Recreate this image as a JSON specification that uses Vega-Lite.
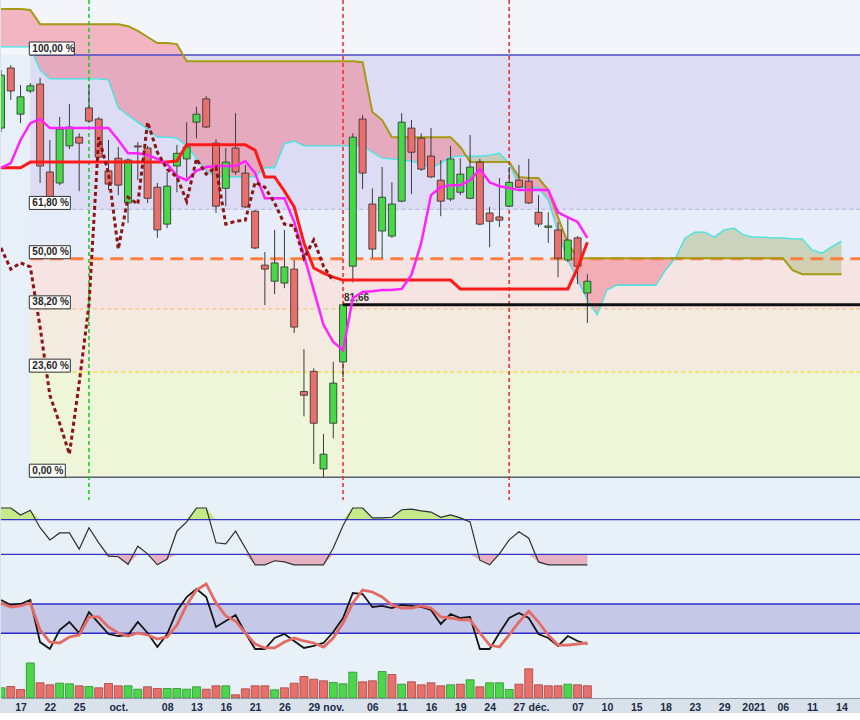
{
  "$schema": "https://vega.github.io/schema/vega-lite/v6.json",
  "padding": 0,
  "spacing": 0,
  "bounds": "flush",
  "background": "#d9e2eb",
  "config": {
    "view": {"stroke": null},
    "font": "Liberation Sans",
    "axisX": {"labels": false, "ticks": false, "grid": false, "domainColor": "#98a6b4", "domainWidth": 1}
  },
  "datasets": {
    "days": [
      {"date":"2020-09-15","open":86.58,"high":88.26,"low":86.46,"close":88.11,"kijun":85.45,"tenkan":85.45,"chikou":83.21,"spanA":88.94,"spanB":90.06,"osc":100,"stochK":75.4,"stochD":71.4,"volume":510000,"vdir":"hausse"},
      {"date":"2020-09-16","open":88.32,"high":88.40,"low":87.39,"close":87.65,"kijun":85.45,"tenkan":85.58,"chikou":82.63,"spanA":88.94,"spanB":90.06,"osc":100,"stochK":68.6,"stochD":65.9,"volume":575000,"vdir":"baisse"},
      {"date":"2020-09-17","open":86.98,"high":87.82,"low":86.72,"close":87.48,"kijun":85.45,"tenkan":86.24,"chikou":82.80,"spanA":88.94,"spanB":90.06,"osc":88,"stochK":70,"stochD":67.3,"volume":425000,"vdir":"baisse"},
      {"date":"2020-09-18","open":87.65,"high":87.88,"low":87.59,"close":87.80,"kijun":85.61,"tenkan":86.72,"chikou":82.69,"spanA":88.94,"spanB":90.03,"osc":96,"stochK":75.4,"stochD":71.4,"volume":1750000,"vdir":"hausse"},
      {"date":"2020-09-21","open":87.85,"high":88.03,"low":85.02,"close":85.50,"kijun":85.61,"tenkan":86.84,"chikou":81.06,"spanA":88.26,"spanB":89.61,"osc":66,"stochK":18,"stochD":34.5,"volume":760000,"vdir":"baisse"},
      {"date":"2020-09-22","open":85.33,"high":86.24,"low":84.40,"close":84.59,"kijun":85.61,"tenkan":86.58,"chikou":79.25,"spanA":88.00,"spanB":89.61,"osc":45,"stochK":8.6,"stochD":18.1,"volume":660000,"vdir":"baisse"},
      {"date":"2020-09-23","open":85.02,"high":86.90,"low":84.96,"close":86.55,"kijun":85.61,"tenkan":86.58,"chikou":78.52,"spanA":88.00,"spanB":89.61,"osc":57,"stochK":34.5,"stochD":16.8,"volume":740000,"vdir":"hausse"},
      {"date":"2020-09-24","open":86.07,"high":87.27,"low":85.98,"close":86.61,"kijun":85.61,"tenkan":86.58,"chikou":77.72,"spanA":88.00,"spanB":89.61,"osc":57,"stochK":45.4,"stochD":25,"volume":710000,"vdir":"hausse"},
      {"date":"2020-09-25","open":86.32,"high":86.43,"low":84.79,"close":86.15,"kijun":85.61,"tenkan":86.58,"chikou":79.57,"spanA":88.00,"spanB":89.61,"osc":29,"stochK":30.4,"stochD":27.7,"volume":610000,"vdir":"baisse"},
      {"date":"2020-09-28","open":87.16,"high":87.82,"low":86.75,"close":86.78,"kijun":85.61,"tenkan":86.58,"chikou":81.66,"spanA":88.00,"spanB":89.61,"osc":66,"stochK":59,"stochD":52.3,"volume":575000,"vdir":"hausse"},
      {"date":"2020-09-29","open":86.84,"high":86.90,"low":85.67,"close":85.75,"kijun":85.61,"tenkan":86.58,"chikou":86.32,"spanA":88.00,"spanB":89.61,"osc":40,"stochK":44,"stochD":52.3,"volume":510000,"vdir":"baisse"},
      {"date":"2020-09-30","open":85.36,"high":86.24,"low":84.82,"close":84.99,"kijun":85.61,"tenkan":86.58,"chikou":85.30,"spanA":87.97,"spanB":89.61,"osc":17,"stochK":29,"stochD":38.6,"volume":725000,"vdir":"baisse"},
      {"date":"2020-10-01","open":85.72,"high":86.04,"low":84.68,"close":84.96,"kijun":85.61,"tenkan":86.24,"chikou":83.18,"spanA":87.16,"spanB":89.61,"osc":16,"stochK":26.3,"stochD":30.4,"volume":610000,"vdir":"baisse"},
      {"date":"2020-10-02","open":84.46,"high":85.72,"low":83.90,"close":85.67,"kijun":85.61,"tenkan":85.86,"chikou":84.62,"spanA":86.95,"spanB":89.55,"osc":3,"stochK":27.6,"stochD":26.3,"volume":610000,"vdir":"hausse"},
      {"date":"2020-10-05","open":86.07,"high":86.18,"low":85.10,"close":86.04,"kijun":85.61,"tenkan":85.86,"chikou":84.43,"spanA":86.75,"spanB":89.41,"osc":34,"stochK":45.4,"stochD":30.4,"volume":440000,"vdir":"hausse"},
      {"date":"2020-10-06","open":86.01,"high":86.07,"low":84.46,"close":84.59,"kijun":85.61,"tenkan":85.81,"chikou":86.75,"spanA":86.55,"spanB":89.23,"osc":21,"stochK":30.4,"stochD":27.7,"volume":560000,"vdir":"baisse"},
      {"date":"2020-10-07","open":84.90,"high":85.02,"low":83.49,"close":83.71,"kijun":85.61,"tenkan":85.70,"chikou":85.89,"spanA":86.32,"spanB":89.05,"osc":2,"stochK":11.3,"stochD":22.2,"volume":475000,"vdir":"baisse"},
      {"date":"2020-10-08","open":83.87,"high":85.33,"low":83.76,"close":84.93,"kijun":85.61,"tenkan":85.56,"chikou":85.41,"spanA":86.32,"spanB":89.05,"osc":12,"stochK":29,"stochD":25,"volume":475000,"vdir":"hausse"},
      {"date":"2020-10-09","open":85.50,"high":86.10,"low":84.76,"close":85.86,"kijun":85.64,"tenkan":85.22,"chikou":85.19,"spanA":86.29,"spanB":89.02,"osc":60,"stochK":60.4,"stochD":41.3,"volume":475000,"vdir":"hausse"},
      {"date":"2020-10-12","open":85.70,"high":86.75,"low":85.16,"close":86.04,"kijun":86.10,"tenkan":85.10,"chikou":84.51,"spanA":86.07,"spanB":88.52,"osc":76,"stochK":79.5,"stochD":68.6,"volume":440000,"vdir":"hausse"},
      {"date":"2020-10-13","open":86.75,"high":87.19,"low":86.29,"close":86.98,"kijun":86.10,"tenkan":85.36,"chikou":85.70,"spanA":85.72,"spanB":88.52,"osc":100,"stochK":90.4,"stochD":89,"volume":560000,"vdir":"hausse"},
      {"date":"2020-10-14","open":87.42,"high":87.51,"low":86.58,"close":86.61,"kijun":86.10,"tenkan":85.47,"chikou":85.27,"spanA":85.36,"spanB":88.52,"osc":100,"stochK":79.5,"stochD":97.3,"volume":440000,"vdir":"baisse"},
      {"date":"2020-10-15","open":86.15,"high":86.26,"low":84.18,"close":84.37,"kijun":86.10,"tenkan":85.50,"chikou":85.47,"spanA":85.19,"spanB":88.52,"osc":40,"stochK":38.6,"stochD":71.4,"volume":610000,"vdir":"baisse"},
      {"date":"2020-10-16","open":84.87,"high":86.01,"low":84.37,"close":85.61,"kijun":86.10,"tenkan":85.50,"chikou":83.87,"spanA":85.19,"spanB":88.52,"osc":38,"stochK":46.8,"stochD":53.6,"volume":610000,"vdir":"hausse"},
      {"date":"2020-10-19","open":86.01,"high":87.01,"low":85.25,"close":85.33,"kijun":86.10,"tenkan":85.50,"chikou":83.95,"spanA":85.19,"spanB":88.52,"osc":60,"stochK":55,"stochD":46.8,"volume":160000,"vdir":"baisse"},
      {"date":"2020-10-20","open":85.30,"high":85.53,"low":84.32,"close":84.35,"kijun":86.10,"tenkan":85.64,"chikou":83.98,"spanA":85.19,"spanB":88.52,"osc":31,"stochK":30.4,"stochD":30.4,"volume":460000,"vdir":"baisse"},
      {"date":"2020-10-21","open":84.23,"high":84.26,"low":83.18,"close":83.21,"kijun":85.95,"tenkan":85.30,"chikou":85.04,"spanA":85.19,"spanB":88.52,"osc":2,"stochK":8.6,"stochD":15.4,"volume":610000,"vdir":"baisse"},
      {"date":"2020-10-22","open":82.74,"high":83.10,"low":81.65,"close":82.63,"kijun":85.19,"tenkan":84.59,"chikou":84.90,"spanA":85.45,"spanB":88.52,"osc":2,"stochK":8.6,"stochD":10,"volume":610000,"vdir":"baisse"},
      {"date":"2020-10-23","open":82.30,"high":83.71,"low":81.95,"close":82.80,"kijun":85.19,"tenkan":84.59,"chikou":84.46,"spanA":85.45,"spanB":88.52,"osc":9,"stochK":23.6,"stochD":10,"volume":410000,"vdir":"hausse"},
      {"date":"2020-10-26","open":82.25,"high":83.71,"low":82.11,"close":82.69,"kijun":84.79,"tenkan":84.59,"chikou":83.87,"spanA":86.13,"spanB":88.52,"osc":7,"stochK":29,"stochD":18.1,"volume":510000,"vdir":"baisse"},
      {"date":"2020-10-27","open":82.63,"high":82.88,"low":80.90,"close":81.06,"kijun":84.35,"tenkan":83.93,"chikou":83.82,"spanA":86.21,"spanB":88.52,"osc":2,"stochK":19.5,"stochD":23.6,"volume":740000,"vdir":"baisse"},
      {"date":"2020-10-28","open":79.35,"high":80.47,"low":78.70,"close":79.25,"kijun":83.35,"tenkan":83.01,"chikou":82.93,"spanA":86.07,"spanB":88.52,"osc":2,"stochK":10,"stochD":19.5,"volume":1075000,"vdir":"baisse"},
      {"date":"2020-10-29","open":79.88,"high":79.96,"low":77.47,"close":78.52,"kijun":82.66,"tenkan":82.06,"chikou":83.43,"spanA":86.07,"spanB":88.52,"osc":2,"stochK":12.7,"stochD":16.8,"volume":940000,"vdir":"baisse"},
      {"date":"2020-10-30","open":77.34,"high":78.24,"low":77.13,"close":77.72,"kijun":82.52,"tenkan":81.12,"chikou":82.71,"spanA":86.07,"spanB":88.52,"osc":2,"stochK":16.8,"stochD":11.3,"volume":860000,"vdir":"baisse"},
      {"date":"2020-11-02","open":78.52,"high":80.13,"low":78.13,"close":79.57,"kijun":82.41,"tenkan":80.66,"chikou":82.30,"spanA":86.07,"spanB":88.52,"osc":31,"stochK":31.8,"stochD":23.6,"volume":775000,"vdir":"hausse"},
      {"date":"2020-11-03","open":80.13,"high":81.68,"low":79.72,"close":81.66,"kijun":82.33,"tenkan":80.44,"spanA":86.07,"spanB":88.52,"osc":70,"stochK":50.9,"stochD":44,"volume":710000,"vdir":"hausse"},
      {"date":"2020-11-04","open":82.71,"high":86.43,"low":82.27,"close":86.32,"kijun":82.33,"tenkan":81.84,"spanA":86.07,"spanB":88.52,"osc":100,"stochK":85,"stochD":71.4,"volume":1290000,"vdir":"hausse"},
      {"date":"2020-11-05","open":86.84,"high":86.95,"low":84.85,"close":85.30,"kijun":82.33,"tenkan":82.01,"spanA":86.07,"spanB":88.49,"osc":100,"stochK":83.6,"stochD":89,"volume":810000,"vdir":"baisse"},
      {"date":"2020-11-06","open":84.43,"high":84.87,"low":82.93,"close":83.18,"kijun":82.33,"tenkan":82.03,"spanA":85.89,"spanB":87.04,"osc":83,"stochK":65.9,"stochD":86.4,"volume":860000,"vdir":"baisse"},
      {"date":"2020-11-09","open":83.68,"high":85.47,"low":82.93,"close":84.62,"kijun":82.33,"tenkan":82.06,"spanA":85.72,"spanB":86.81,"osc":83,"stochK":67.3,"stochD":79.5,"volume":1325000,"vdir":"hausse"},
      {"date":"2020-11-10","open":83.54,"high":85.04,"low":83.49,"close":84.43,"kijun":82.33,"tenkan":82.06,"spanA":85.70,"spanB":86.32,"osc":84,"stochK":64.5,"stochD":68.6,"volume":1175000,"vdir":"baisse"},
      {"date":"2020-11-11","open":84.51,"high":87.01,"low":84.48,"close":86.75,"kijun":82.33,"tenkan":82.09,"spanA":85.67,"spanB":86.32,"osc":97,"stochK":68.6,"stochD":64.5,"volume":690000,"vdir":"hausse"},
      {"date":"2020-11-12","open":86.58,"high":86.81,"low":84.71,"close":85.89,"kijun":82.33,"tenkan":82.47,"spanA":85.64,"spanB":86.32,"osc":98,"stochK":67.3,"stochD":64.5,"volume":810000,"vdir":"baisse"},
      {"date":"2020-11-13","open":86.29,"high":86.43,"low":85.36,"close":85.41,"kijun":82.33,"tenkan":83.35,"spanA":85.56,"spanB":86.32,"osc":95,"stochK":65.9,"stochD":67.3,"volume":660000,"vdir":"baisse"},
      {"date":"2020-11-16","open":85.78,"high":86.58,"low":85.16,"close":85.19,"kijun":82.33,"tenkan":84.68,"spanA":85.45,"spanB":86.32,"osc":93,"stochK":61.8,"stochD":64.5,"volume":760000,"vdir":"baisse"},
      {"date":"2020-11-17","open":85.10,"high":85.67,"low":84.09,"close":84.51,"kijun":82.33,"tenkan":84.90,"spanA":85.58,"spanB":86.32,"osc":84,"stochK":42.7,"stochD":52.3,"volume":610000,"vdir":"baisse"},
      {"date":"2020-11-18","open":84.57,"high":86.07,"low":84.51,"close":85.70,"kijun":82.33,"tenkan":84.96,"spanA":85.75,"spanB":86.32,"osc":88,"stochK":56.3,"stochD":50.9,"volume":660000,"vdir":"hausse"},
      {"date":"2020-11-19","open":84.76,"high":85.72,"low":84.68,"close":85.27,"kijun":82.09,"tenkan":84.96,"spanA":85.78,"spanB":86.04,"osc":83,"stochK":50.9,"stochD":48.2,"volume":690000,"vdir":"baisse"},
      {"date":"2020-11-20","open":84.59,"high":86.38,"low":84.57,"close":85.47,"kijun":82.09,"tenkan":85.10,"spanA":85.78,"spanB":85.61,"osc":76,"stochK":52.3,"stochD":48.2,"volume":910000,"vdir":"hausse"},
      {"date":"2020-11-23","open":85.61,"high":85.70,"low":83.84,"close":83.87,"kijun":82.09,"tenkan":85.41,"spanA":85.78,"spanB":85.61,"osc":10,"stochK":8.6,"stochD":30.4,"volume":560000,"vdir":"baisse"},
      {"date":"2020-11-24","open":84.18,"high":84.35,"low":83.23,"close":83.95,"kijun":82.09,"tenkan":85.04,"spanA":85.81,"spanB":85.61,"osc":2,"stochK":8.6,"stochD":14,"volume":760000,"vdir":"hausse"},
      {"date":"2020-11-25","open":84.07,"high":85.16,"low":83.79,"close":83.98,"kijun":82.09,"tenkan":84.93,"spanA":85.86,"spanB":85.61,"osc":21,"stochK":30.4,"stochD":11.3,"volume":760000,"vdir":"hausse"},
      {"date":"2020-11-26","open":84.37,"high":85.47,"low":84.35,"close":85.04,"kijun":82.09,"tenkan":84.88,"spanA":85.58,"spanB":85.61,"osc":45,"stochK":50.9,"stochD":27.7,"volume":425000,"vdir":"hausse"},
      {"date":"2020-11-27","open":85.10,"high":85.53,"low":84.87,"close":84.90,"kijun":82.09,"tenkan":84.82,"spanA":84.93,"spanB":85.19,"osc":59,"stochK":57.7,"stochD":45.4,"volume":690000,"vdir":"baisse"},
      {"date":"2020-11-30","open":85.07,"high":85.70,"low":84.43,"close":84.46,"kijun":82.09,"tenkan":84.82,"spanA":84.88,"spanB":85.16,"osc":48,"stochK":50.9,"stochD":60.4,"volume":1460000,"vdir":"baisse"},
      {"date":"2020-12-01","open":84.20,"high":84.68,"low":83.79,"close":83.87,"kijun":82.09,"tenkan":84.82,"spanA":84.88,"spanB":85.16,"osc":7,"stochK":29,"stochD":45.4,"volume":660000,"vdir":"baisse"},
      {"date":"2020-12-02","open":83.78,"high":84.20,"low":83.35,"close":83.82,"kijun":82.09,"tenkan":84.82,"spanA":84.54,"spanB":84.82,"osc":2,"stochK":23.6,"stochD":27.7,"volume":610000,"vdir":"baisse"},
      {"date":"2020-12-03","open":83.71,"high":83.93,"low":82.41,"close":82.93,"kijun":82.09,"tenkan":84.20,"spanA":83.63,"spanB":84.06,"osc":2,"stochK":12.7,"stochD":14,"volume":610000,"vdir":"baisse"},
      {"date":"2020-12-04","open":82.88,"high":84.04,"low":82.82,"close":83.43,"kijun":82.09,"tenkan":84.06,"spanA":82.88,"spanB":83.35,"osc":2,"stochK":26.3,"stochD":14,"volume":690000,"vdir":"hausse"},
      {"date":"2020-12-07","open":83.49,"high":83.54,"low":82.22,"close":82.71,"kijun":82.66,"tenkan":83.93,"spanA":82.33,"spanB":82.93,"osc":2,"stochK":19.5,"stochD":15.4,"volume":660000,"vdir":"baisse"},
      {"date":"2020-12-08","open":81.98,"high":82.49,"low":81.17,"close":82.30,"kijun":83.37,"tenkan":83.49,"spanA":81.79,"spanB":82.93,"osc":2,"stochK":15.4,"stochD":16.8,"volume":610000,"vdir":"baisse"},
      {"date":"2020-12-09","spanA":81.39,"spanB":82.93},
      {"date":"2020-12-10","spanA":82.06,"spanB":82.93},
      {"date":"2020-12-11","spanA":82.19,"spanB":82.93},
      {"date":"2020-12-14","spanA":82.19,"spanB":82.93},
      {"date":"2020-12-15","spanA":82.19,"spanB":82.93},
      {"date":"2020-12-16","spanA":82.19,"spanB":82.93},
      {"date":"2020-12-17","spanA":82.19,"spanB":82.93},
      {"date":"2020-12-18","spanA":82.60,"spanB":82.93},
      {"date":"2020-12-21","spanA":82.93,"spanB":82.93},
      {"date":"2020-12-22","spanA":83.49,"spanB":82.93},
      {"date":"2020-12-23","spanA":83.65,"spanB":82.93},
      {"date":"2020-12-24","spanA":83.65,"spanB":82.93},
      {"date":"2020-12-28","spanA":83.51,"spanB":82.93},
      {"date":"2020-12-29","spanA":83.71,"spanB":82.93},
      {"date":"2020-12-30","spanA":83.76,"spanB":82.93},
      {"date":"2020-12-31","spanA":83.57,"spanB":82.93},
      {"date":"2021-01-01","spanA":83.51,"spanB":82.93},
      {"date":"2021-01-04","spanA":83.51,"spanB":82.93},
      {"date":"2021-01-05","spanA":83.49,"spanB":82.93},
      {"date":"2021-01-06","spanA":83.49,"spanB":82.93},
      {"date":"2021-01-07","spanA":83.46,"spanB":82.60},
      {"date":"2021-01-08","spanA":83.46,"spanB":82.49},
      {"date":"2021-01-11","spanA":83.15,"spanB":82.49},
      {"date":"2021-01-12","spanA":83.07,"spanB":82.49},
      {"date":"2021-01-13","spanA":83.24,"spanB":82.49},
      {"date":"2021-01-14","spanA":83.40,"spanB":82.49}
    ],
    "fib": [
      {"label":"0,00 %","price":77.13,"upper":79.86},
      {"label":"23,60 %","price":79.86,"upper":81.55},
      {"label":"38,20 %","price":81.55,"upper":82.915},
      {"label":"50,00 %","price":82.915,"upper":84.28},
      {"label":"61,80 %","price":84.28,"upper":88.70},
      {"label":"100,00 %","price":88.70}
    ],
    "signals": [
      {"date":"2020-09-28","signal":"achat"},
      {"date":"2020-11-03","signal":"vente"},
      {"date":"2020-11-26","signal":"vente"}
    ],
    "support": [
      {"date":"2020-11-03","end":"2021-01-18","price":81.66,"label":"81,66"}
    ]
  },
  "resolve": {"scale": {"x": "shared"}, "axis": {"x": "independent"}},
  "vconcat": [
    {
      "width": 860,
      "height": 500,
      "view": {"fill": "#e7eff8", "stroke": null},
      "resolve": {"scale": {"color": "independent"}},
      "layer": [
        {
          "data": {"values": [{"lower": 88.70, "upper": 90.33}]},
          "mark": {"type": "rect", "color": "#f3f5fa", "clip": true},
          "encoding": {
            "y": {"field": "lower", "type": "quantitative", "scale": {"type": "log", "domain": [76.55, 90.33], "nice": false}, "axis": null},
            "y2": {"field": "upper"}
          }
        },
        {
          "data": {"name": "fib"},
          "transform": [{"filter": "isValid(datum.upper)"}],
          "mark": {"type": "rect", "clip": true},
          "encoding": {
            "x": {"datum": "2020-09-18", "type": "ordinal"},
            "x2": {"datum": "2021-01-18"},
            "y": {"field": "price", "type": "quantitative", "scale": {"type": "log", "domain": [76.55, 90.33], "nice": false}, "axis": null},
            "y2": {"field": "upper"},
            "color": {"field": "label", "type": "nominal", "legend": null,
              "scale": {"domain": ["0,00 %", "23,60 %", "38,20 %", "50,00 %", "61,80 %"], "range": ["#eef5d8", "#f3ebdf", "#f6e4e3", "#e7eef9", "#dcdcf4"]}}
          }
        },
        {
          "data": {"name": "days"},
          "transform": [{"filter": "datum.date <= '2020-11-20'"}],
          "mark": {"type": "area", "color": "#f07888", "opacity": 0.5, "clip": true},
          "encoding": {
            "x": {"field": "date", "type": "ordinal", "title": null},
            "y": {"field": "spanA", "type": "quantitative", "scale": {"type": "log", "domain": [76.55, 90.33], "nice": false}, "axis": null},
            "y2": {"field": "spanB"}
          }
        },
        {
          "data": {"name": "days"},
          "transform": [{"filter": "datum.date >= '2020-11-20' && datum.date <= '2020-11-26'"}],
          "mark": {"type": "area", "color": "#b4be8c", "opacity": 0.55, "clip": true},
          "encoding": {
            "x": {"field": "date", "type": "ordinal", "title": null},
            "y": {"field": "spanA", "type": "quantitative", "scale": {"type": "log", "domain": [76.55, 90.33], "nice": false}, "axis": null},
            "y2": {"field": "spanB"}
          }
        },
        {
          "data": {"name": "days"},
          "transform": [{"filter": "datum.date >= '2020-11-26' && datum.date <= '2020-12-21'"}],
          "mark": {"type": "area", "color": "#f07888", "opacity": 0.5, "clip": true},
          "encoding": {
            "x": {"field": "date", "type": "ordinal", "title": null},
            "y": {"field": "spanA", "type": "quantitative", "scale": {"type": "log", "domain": [76.55, 90.33], "nice": false}, "axis": null},
            "y2": {"field": "spanB"}
          }
        },
        {
          "data": {"name": "days"},
          "transform": [{"filter": "datum.date >= '2020-12-21'"}],
          "mark": {"type": "area", "color": "#b4be8c", "opacity": 0.55, "clip": true},
          "encoding": {
            "x": {"field": "date", "type": "ordinal", "title": null},
            "y": {"field": "spanA", "type": "quantitative", "scale": {"type": "log", "domain": [76.55, 90.33], "nice": false}, "axis": null},
            "y2": {"field": "spanB"}
          }
        },
        {
          "data": {"name": "fib"},
          "transform": [{"filter": "datum.label == '0,00 %' || datum.label == '100,00 %'"}],
          "mark": {"type": "rule", "strokeWidth": 1.5, "clip": true},
          "encoding": {
            "x": {"datum": "2020-09-18", "type": "ordinal"},
            "x2": {"datum": "2021-01-18"},
            "y": {"field": "price", "type": "quantitative", "scale": {"type": "log", "domain": [76.55, 90.33], "nice": false}, "axis": null},
            "color": {"field": "label", "type": "nominal", "legend": null,
              "scale": {"domain": ["0,00 %", "100,00 %"], "range": ["#5a626c", "#4848c6"]}}
          }
        },
        {
          "data": {"name": "fib"},
          "transform": [{"filter": "datum.label == '23,60 %' || datum.label == '38,20 %' || datum.label == '61,80 %'"}],
          "mark": {"type": "rule", "strokeWidth": 1.3, "strokeDash": [4, 3], "clip": true},
          "encoding": {
            "x": {"datum": "2020-09-18", "type": "ordinal"},
            "x2": {"datum": "2021-01-18"},
            "y": {"field": "price", "type": "quantitative", "scale": {"type": "log", "domain": [76.55, 90.33], "nice": false}, "axis": null},
            "color": {"field": "label", "type": "nominal", "legend": null,
              "scale": {"domain": ["23,60 %", "38,20 %", "61,80 %"], "range": ["#f0e020", "#f2c488", "#bcbce6"]}}
          }
        },
        {
          "data": {"name": "fib"},
          "transform": [{"filter": "datum.label == '50,00 %'"}],
          "mark": {"type": "rule", "color": "#ff7f40", "strokeWidth": 3, "strokeDash": [13, 7], "clip": true},
          "encoding": {
            "x": {"datum": "2020-09-18", "type": "ordinal"},
            "x2": {"datum": "2021-01-18"},
            "y": {"field": "price", "type": "quantitative", "scale": {"type": "log", "domain": [76.55, 90.33], "nice": false}, "axis": null}
          }
        },
        {
          "data": {"name": "days"},
          "mark": {"type": "line", "color": "#3ee6e6", "strokeWidth": 1.3, "clip": true},
          "encoding": {
            "x": {"field": "date", "type": "ordinal", "title": null},
            "y": {"field": "spanA", "type": "quantitative", "scale": {"type": "log", "domain": [76.55, 90.33], "nice": false}, "axis": null}
          }
        },
        {
          "data": {"name": "days"},
          "mark": {"type": "line", "color": "#a49a14", "strokeWidth": 2, "clip": true},
          "encoding": {
            "x": {"field": "date", "type": "ordinal", "title": null},
            "y": {"field": "spanB", "type": "quantitative", "scale": {"type": "log", "domain": [76.55, 90.33], "nice": false}, "axis": null}
          }
        },
        {
          "data": {"name": "signals"},
          "mark": {"type": "rule", "strokeDash": [4, 3], "strokeWidth": 1.6, "clip": true},
          "encoding": {
            "x": {"field": "date", "type": "ordinal", "title": null},
            "color": {"field": "signal", "type": "nominal", "legend": null,
              "scale": {"domain": ["achat", "vente"], "range": ["#22cc22", "#ee3333"]}}
          }
        },
        {
          "data": {"name": "days"},
          "mark": {"type": "rule", "color": "#3c3c3c", "strokeWidth": 1, "clip": true},
          "encoding": {
            "x": {"field": "date", "type": "ordinal", "title": null},
            "y": {"field": "low", "type": "quantitative", "scale": {"type": "log", "domain": [76.55, 90.33], "nice": false}, "axis": null},
            "y2": {"field": "high"}
          }
        },
        {
          "data": {"name": "days"},
          "mark": {"type": "bar", "width": 7, "stroke": "#2c2c2c", "strokeWidth": 0.8, "clip": true},
          "encoding": {
            "x": {"field": "date", "type": "ordinal", "title": null,
              "scale": {"type": "point", "padding": 0, "domain": [
                "2020-09-15","2020-09-16","2020-09-17","2020-09-18","2020-09-21","2020-09-22","2020-09-23","2020-09-24","2020-09-25",
                "2020-09-28","2020-09-29","2020-09-30","2020-10-01","2020-10-02","2020-10-05","2020-10-06","2020-10-07","2020-10-08","2020-10-09",
                "2020-10-12","2020-10-13","2020-10-14","2020-10-15","2020-10-16","2020-10-19","2020-10-20","2020-10-21","2020-10-22","2020-10-23",
                "2020-10-26","2020-10-27","2020-10-28","2020-10-29","2020-10-30","2020-11-02","2020-11-03","2020-11-04","2020-11-05","2020-11-06",
                "2020-11-09","2020-11-10","2020-11-11","2020-11-12","2020-11-13","2020-11-16","2020-11-17","2020-11-18","2020-11-19","2020-11-20",
                "2020-11-23","2020-11-24","2020-11-25","2020-11-26","2020-11-27","2020-11-30","2020-12-01","2020-12-02","2020-12-03","2020-12-04",
                "2020-12-07","2020-12-08","2020-12-09","2020-12-10","2020-12-11","2020-12-14","2020-12-15","2020-12-16","2020-12-17","2020-12-18",
                "2020-12-21","2020-12-22","2020-12-23","2020-12-24","2020-12-28","2020-12-29","2020-12-30","2020-12-31","2021-01-01",
                "2021-01-04","2021-01-05","2021-01-06","2021-01-07","2021-01-08","2021-01-11","2021-01-12","2021-01-13","2021-01-14","2021-01-15","2021-01-18"
              ]}},
            "y": {"field": "open", "type": "quantitative", "scale": {"type": "log", "domain": [76.55, 90.33], "nice": false}, "axis": null},
            "y2": {"field": "close"},
            "fill": {"condition": {"test": "datum.close >= datum.open", "value": "#46d846"}, "value": "#e8706c"}
          }
        },
        {
          "data": {"name": "support"},
          "mark": {"type": "rule", "color": "#111111", "strokeWidth": 3, "clip": true},
          "encoding": {
            "x": {"field": "date", "type": "ordinal", "title": null},
            "x2": {"field": "end"},
            "y": {"field": "price", "type": "quantitative", "scale": {"type": "log", "domain": [76.55, 90.33], "nice": false}, "axis": null}
          }
        },
        {
          "data": {"name": "support"},
          "mark": {"type": "text", "align": "left", "baseline": "alphabetic", "dx": 1, "dy": -4, "fontSize": 10, "fontWeight": "bold", "color": "#333333"},
          "encoding": {
            "x": {"field": "date", "type": "ordinal", "title": null},
            "y": {"field": "price", "type": "quantitative", "scale": {"type": "log", "domain": [76.55, 90.33], "nice": false}, "axis": null},
            "text": {"field": "label"}
          }
        },
        {
          "data": {"name": "days"},
          "mark": {"type": "line", "color": "#ff1a1a", "strokeWidth": 3, "clip": true},
          "encoding": {
            "x": {"field": "date", "type": "ordinal", "title": null},
            "y": {"field": "kijun", "type": "quantitative", "scale": {"type": "log", "domain": [76.55, 90.33], "nice": false}, "axis": null}
          }
        },
        {
          "data": {"name": "days"},
          "mark": {"type": "line", "color": "#ff22ff", "strokeWidth": 2.5, "clip": true},
          "encoding": {
            "x": {"field": "date", "type": "ordinal", "title": null},
            "y": {"field": "tenkan", "type": "quantitative", "scale": {"type": "log", "domain": [76.55, 90.33], "nice": false}, "axis": null}
          }
        },
        {
          "data": {"name": "days"},
          "mark": {"type": "line", "color": "#8c1414", "strokeWidth": 3, "strokeDash": [4, 3], "clip": true},
          "encoding": {
            "x": {"field": "date", "type": "ordinal", "title": null},
            "y": {"field": "chikou", "type": "quantitative", "scale": {"type": "log", "domain": [76.55, 90.33], "nice": false}, "axis": null}
          }
        },
        {
          "data": {"name": "fib"},
          "transform": [{"filter": "datum.label == '100,00 %'"}],
          "mark": {"type": "rect", "fill": "#ffffff", "stroke": "#303030", "strokeWidth": 1, "xOffset": -1, "x2Offset": 44, "y2Offset": -13, "clip": true},
          "encoding": {
            "x": {"datum": "2020-09-18", "type": "ordinal"},
            "x2": {"datum": "2020-09-18"},
            "y": {"field": "price", "type": "quantitative", "scale": {"type": "log", "domain": [76.55, 90.33], "nice": false}, "axis": null},
            "y2": {"field": "price"}
          }
        },
        {
          "data": {"name": "fib"},
          "transform": [{"filter": "datum.label != '100,00 %' && datum.label != '0,00 %'"}],
          "mark": {"type": "rect", "fill": "#ffffff", "stroke": "#303030", "strokeWidth": 1, "xOffset": -1, "x2Offset": 40, "y2Offset": -13, "clip": true},
          "encoding": {
            "x": {"datum": "2020-09-18", "type": "ordinal"},
            "x2": {"datum": "2020-09-18"},
            "y": {"field": "price", "type": "quantitative", "scale": {"type": "log", "domain": [76.55, 90.33], "nice": false}, "axis": null},
            "y2": {"field": "price"}
          }
        },
        {
          "data": {"name": "fib"},
          "transform": [{"filter": "datum.label == '0,00 %'"}],
          "mark": {"type": "rect", "fill": "#ffffff", "stroke": "#303030", "strokeWidth": 1, "xOffset": -1, "x2Offset": 35, "y2Offset": -13, "clip": true},
          "encoding": {
            "x": {"datum": "2020-09-18", "type": "ordinal"},
            "x2": {"datum": "2020-09-18"},
            "y": {"field": "price", "type": "quantitative", "scale": {"type": "log", "domain": [76.55, 90.33], "nice": false}, "axis": null},
            "y2": {"field": "price"}
          }
        },
        {
          "data": {"name": "fib"},
          "mark": {"type": "text", "align": "left", "baseline": "middle", "dx": 2, "dy": -6.5, "fontSize": 10, "fontWeight": "bold", "color": "#1e1e1e"},
          "encoding": {
            "x": {"datum": "2020-09-18", "type": "ordinal"},
            "y": {"field": "price", "type": "quantitative", "scale": {"type": "log", "domain": [76.55, 90.33], "nice": false}, "axis": null},
            "text": {"field": "label"}
          }
        }
      ]
    },
    {
      "width": 860,
      "height": 68,
      "view": {"fill": "#e8f1f7", "stroke": null},
      "resolve": {"scale": {"y": "independent"}},
      "layer": [
        {
          "data": {"name": "days"},
          "mark": {"type": "area", "color": "#c4ea8a", "clip": true},
          "encoding": {
            "x": {"field": "date", "type": "ordinal", "title": null},
            "y": {"field": "osc", "type": "quantitative", "scale": {"domain": [80, 113.79], "range": [19.6, 0], "clamp": true, "nice": false, "zero": false}, "axis": null},
            "y2": {"datum": 80}
          }
        },
        {
          "data": {"name": "days"},
          "mark": {"type": "area", "color": "#e6b2c2", "clip": true},
          "encoding": {
            "x": {"field": "date", "type": "ordinal", "title": null},
            "y": {"field": "osc", "type": "quantitative", "scale": {"domain": [-3.45, 20], "range": [68, 54.4], "clamp": true, "nice": false, "zero": false}, "axis": null},
            "y2": {"datum": 20}
          }
        },
        {
          "data": {"values": [{"level": 80}, {"level": 20}]},
          "mark": {"type": "rule", "color": "#3434c4", "strokeWidth": 1.2},
          "encoding": {
            "y": {"field": "level", "type": "quantitative", "scale": {"domain": [-3.45, 113.79], "nice": false, "zero": false}, "axis": null}
          }
        },
        {
          "data": {"name": "days"},
          "mark": {"type": "line", "color": "#303030", "strokeWidth": 1.2, "clip": true},
          "encoding": {
            "x": {"field": "date", "type": "ordinal", "title": null},
            "y": {"field": "osc", "type": "quantitative", "scale": {"domain": [-3.45, 113.79], "nice": false, "zero": false}, "axis": null}
          }
        }
      ]
    },
    {
      "width": 860,
      "height": 90,
      "view": {"fill": "#e8f1f7", "stroke": null},
      "layer": [
        {
          "data": {"values": [{"upper": 70, "lower": 30}]},
          "mark": {"type": "rect", "color": "#c6c8e8"},
          "encoding": {
            "y": {"field": "upper", "type": "quantitative", "scale": {"domain": [-3.7, 119.1], "nice": false, "zero": false}, "axis": null},
            "y2": {"field": "lower"}
          }
        },
        {
          "data": {"values": [{"level": 70}, {"level": 30}]},
          "mark": {"type": "rule", "color": "#2a2ac8", "strokeWidth": 1.5},
          "encoding": {
            "y": {"field": "level", "type": "quantitative", "scale": {"domain": [-3.7, 119.1], "nice": false, "zero": false}, "axis": null}
          }
        },
        {
          "data": {"name": "days"},
          "mark": {"type": "line", "color": "#151515", "strokeWidth": 1.8, "clip": true},
          "encoding": {
            "x": {"field": "date", "type": "ordinal", "title": null},
            "y": {"field": "stochK", "type": "quantitative", "scale": {"domain": [-3.7, 119.1], "nice": false, "zero": false}, "axis": null}
          }
        },
        {
          "data": {"name": "days"},
          "mark": {"type": "line", "color": "#e46a64", "strokeWidth": 2.8, "clip": true},
          "encoding": {
            "x": {"field": "date", "type": "ordinal", "title": null},
            "y": {"field": "stochD", "type": "quantitative", "scale": {"domain": [-3.7, 119.1], "nice": false, "zero": false}, "axis": null}
          }
        }
      ]
    },
    {
      "width": 860,
      "height": 40,
      "view": {"fill": "#e8f1f7", "stroke": null},
      "layer": [
        {
          "data": {"name": "days"},
          "mark": {"type": "bar", "width": 8, "strokeWidth": 0.8, "clip": true},
          "encoding": {
            "x": {"field": "date", "type": "ordinal", "title": null,
              "scale": {"type": "point", "padding": 0},
              "axis": {
                "labels": true,
                "ticks": false,
                "domain": true,
                "domainColor": "#8c9aa8",
                "labelAngle": 0,
                "labelOverlap": false,
                "labelPadding": 4,
                "labelFont": "Liberation Sans",
                "labelFontSize": 10.5,
                "labelFontWeight": "bold",
                "labelColor": "#1c2a48",
                "values": ["2020-09-17","2020-09-22","2020-09-25","2020-10-01","2020-10-08","2020-10-13","2020-10-16","2020-10-21","2020-10-26","2020-10-29","2020-11-02","2020-11-06","2020-11-11","2020-11-16","2020-11-19","2020-11-24","2020-11-27","2020-12-01","2020-12-07","2020-12-10","2020-12-15","2020-12-18","2020-12-23","2020-12-29","2021-01-01","2021-01-06","2021-01-11","2021-01-14"],
                "labelExpr": "datum.value == '2020-10-01' ? 'oct.' : datum.value == '2020-11-02' ? 'nov.' : datum.value == '2020-12-01' ? 'déc.' : datum.value == '2021-01-01' ? '2021' : substring(datum.value, 8, 10)"
              }},
            "y": {"field": "volume", "type": "quantitative", "stack": null, "scale": {"domain": [0, 2000000], "nice": false}, "axis": null},
            "fill": {"field": "vdir", "type": "nominal", "legend": null, "scale": {"domain": ["hausse", "baisse"], "range": ["#4cd64c", "#e8706a"]}},
            "stroke": {"field": "vdir", "type": "nominal", "legend": null, "scale": {"domain": ["hausse", "baisse"], "range": ["#2f8f2f", "#a44444"]}}
          }
        }
      ]
    }
  ]
}
